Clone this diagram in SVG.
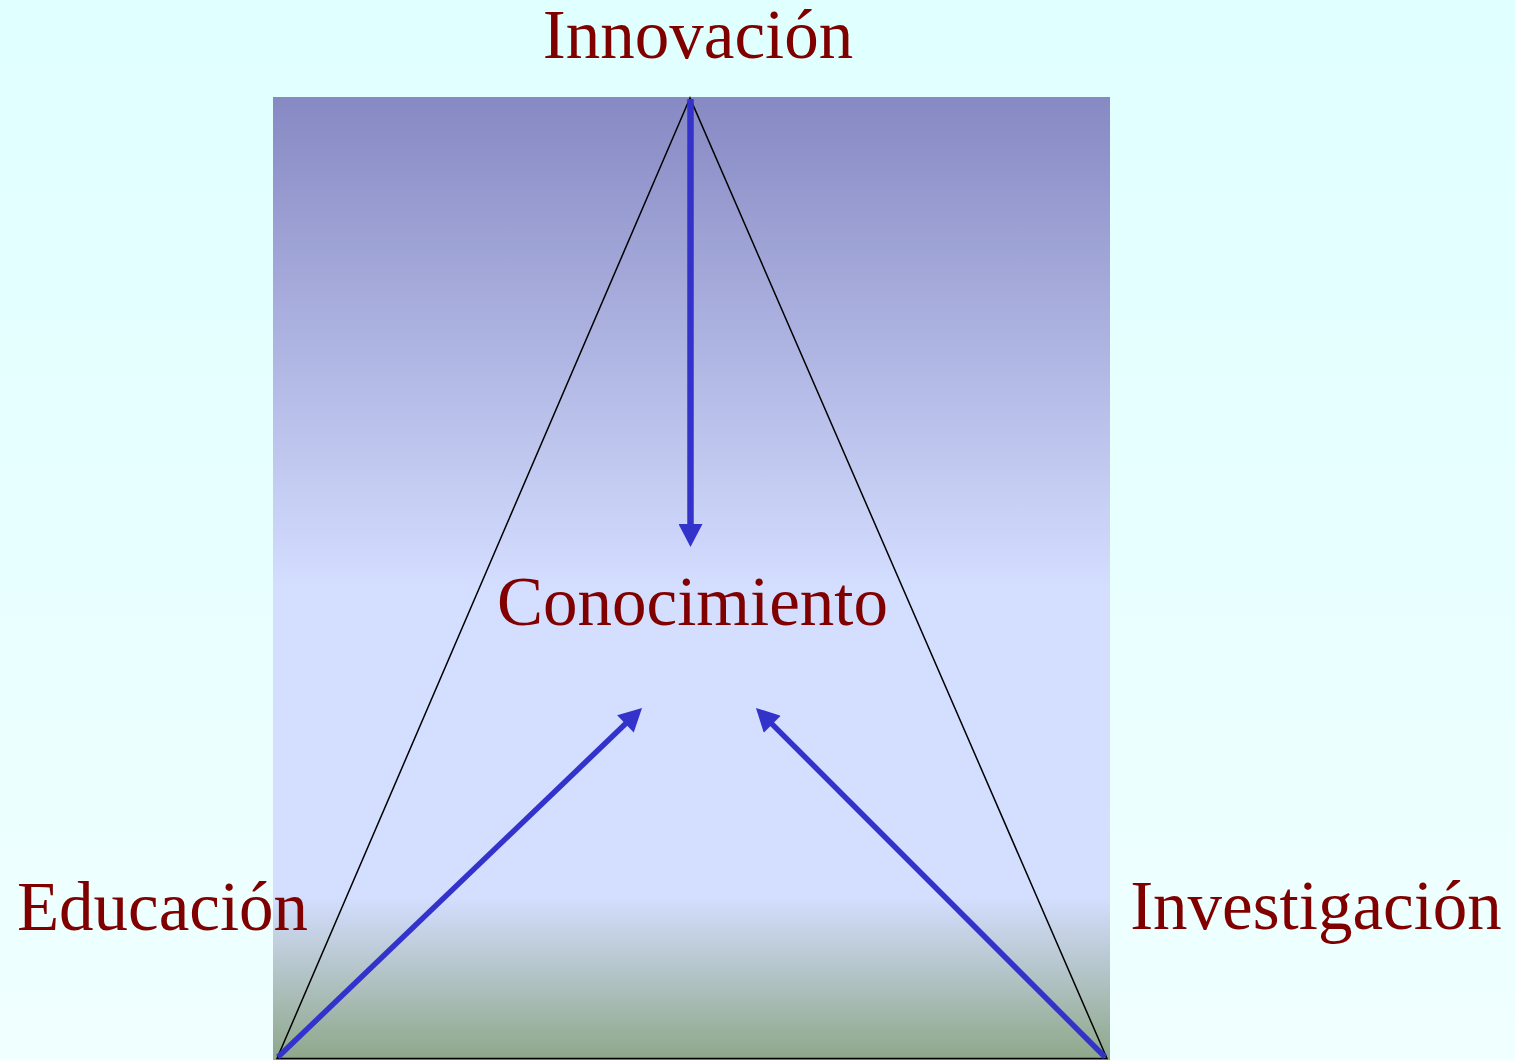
<svg xmlns="http://www.w3.org/2000/svg" width="1515" height="1060" viewBox="0 0 1515 1060">
  <style>
    .lbl { font-family: "Liberation Serif", "Times New Roman", serif; font-size: 69px; fill: #800000; text-anchor: middle; }
    .arr { stroke: #3333cc; stroke-width: 5.5; fill: none; marker-end: url(#ah); }
  </style>
  <defs>
    <linearGradient id="bg" x1="0" y1="0" x2="0" y2="1">
      <stop offset="0" stop-color="#e0ffff"/>
      <stop offset="1" stop-color="#f0ffff"/>
    </linearGradient>
    <linearGradient id="panel" gradientUnits="userSpaceOnUse" x1="0" y1="97" x2="0" y2="1060">
      <stop offset="0" stop-color="#8789c3"/>
      <stop offset="0.51" stop-color="#d4deff"/>
      <stop offset="0.83" stop-color="#d4deff"/>
      <stop offset="1" stop-color="#8ea789"/>
    </linearGradient>
    <marker id="ah" markerUnits="userSpaceOnUse" markerWidth="24" markerHeight="24" viewBox="0 0 23 24" refX="3" refY="12" orient="auto">
      <path d="M0,0 L23,12 L0,24 z" fill="#3333cc"/>
    </marker>
  </defs>
  <rect x="0" y="0" width="1515" height="1060" fill="url(#bg)"/>
  <g id="panel-bg">
    <rect x="273" y="97" width="837" height="963" fill="url(#panel)"/>
  </g>
  <g id="triangle">
    <polygon points="690,98 277,1058.5 1107,1058.5" fill="none" stroke="#000" stroke-width="1.5"/>
  </g>
  <g id="connectors">
    <line class="arr" x1="690.5" y1="99" x2="690.5" y2="527" style="stroke-width:6.5"/>
    <line class="arr" x1="278" y1="1057" x2="627.6" y2="721.8"/>
    <line class="arr" x1="1105" y1="1057" x2="770.1" y2="722.1"/>
  </g>
  <g id="innovacion">
    <text class="lbl" x="698" y="58">Innovación</text>
  </g>
  <g id="conocimiento">
    <text class="lbl" x="692.5" y="625">Conocimiento</text>
  </g>
  <g id="educacion">
    <text class="lbl" x="162.5" y="930">Educación</text>
  </g>
  <g id="investigacion">
    <text class="lbl" x="1316" y="929">Investigación</text>
  </g>
</svg>
